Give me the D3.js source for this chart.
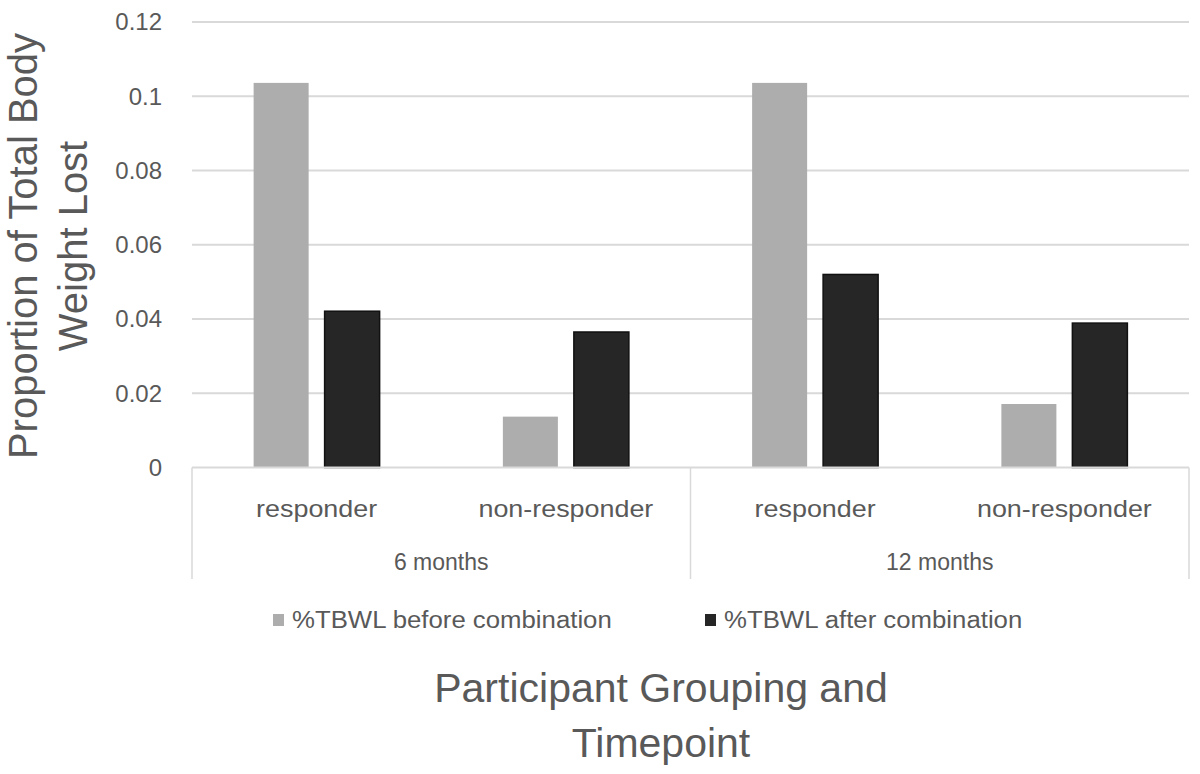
<!DOCTYPE html>
<html><head><meta charset="utf-8">
<script src="https://cdn.jsdelivr.net/npm/d3@7"></script>
<style>body{margin:0;background:#fff}svg{display:block}text{font-family:"Liberation Sans",Arial,sans-serif}</style>
</head><body>
<svg id="c" width="1200" height="774"></svg>
<script>
const groups = ["6 months", "12 months"];
const subgroups = ["responder", "non-responder"];
const seriesNames = ["%TBWL before combination", "%TBWL after combination"];
const beforeValues = [0.1036, 0.0137, 0.1036, 0.0171];
const afterValues = [0.0421, 0.0365, 0.0520, 0.0389];
const yTicks = [0, 0.02, 0.04, 0.06, 0.08, 0.1, 0.12];
const yTickLabels = ["0", "0.02", "0.04", "0.06", "0.08", "0.1", "0.12"];
const colors = ["#adadad", "#262626"];

const svg = d3.select("#c");
const L = 192, R = 1189, T = 22, B = 467.5;
const cats = [];
groups.forEach(g => subgroups.forEach(s => cats.push(g + "|" + s)));
const data = cats.map((c, i) => ({cat: c, vals: [beforeValues[i], afterValues[i]]}));

const x0 = d3.scaleBand().domain(cats).range([L, R]).padding(0);
const x1 = d3.scaleBand().domain([0, 1]).range([0, x0.bandwidth()]).paddingInner(0.225).paddingOuter(0.868);
const y = d3.scaleLinear().domain([0, 0.12]).range([B, T]);

function stretch(sel, f) {
  sel.each(function() { const w = this.getComputedTextLength(); d3.select(this).attr("textLength", w * f).attr("lengthAdjust", "spacingAndGlyphs"); });
}

// gridlines
svg.append("g").selectAll("line").data(yTicks.filter(d => d > 0)).join("line")
  .attr("x1", L).attr("x2", R).attr("y1", d => y(d)).attr("y2", d => y(d))
  .attr("stroke", "#d9d9d9").attr("stroke-width", 2);

// y tick labels
svg.append("g").selectAll("text").data(yTicks).join("text")
  .attr("x", 162).attr("y", d => y(d)).attr("dy", "0.35em").attr("text-anchor", "end")
  .attr("font-size", 24).attr("fill", "#595959")
  .text((d, i) => yTickLabels[i]);

// bars
const g = svg.append("g").selectAll("g").data(data).join("g")
  .attr("transform", d => `translate(${x0(d.cat)},0)`);
g.selectAll("rect").data(d => d.vals.map((v, k) => ({v, k}))).join("rect")
  .attr("x", d => x1(d.k)).attr("width", x1.bandwidth())
  .attr("y", d => y(d.v)).attr("height", d => B - y(d.v))
  .attr("fill", d => colors[d.k])
  .attr("stroke", d => d.k === 1 ? "#111" : "none").attr("stroke-width", 1.5);

// axis line and category dividers
svg.append("line").attr("x1", L).attr("x2", R).attr("y1", B).attr("y2", B)
  .attr("stroke", "#d9d9d9").attr("stroke-width", 2);
const dividers = [L, x0(cats[2]), R];
svg.append("g").selectAll("line").data(dividers).join("line")
  .attr("x1", d => d).attr("x2", d => d).attr("y1", B).attr("y2", 579)
  .attr("stroke", "#d9d9d9").attr("stroke-width", 1.5);

// subgroup labels
svg.append("g").selectAll("text").data(cats).join("text")
  .attr("x", d => x0(d) + x0.bandwidth() / 2).attr("y", 517)
  .attr("text-anchor", "middle").attr("font-size", 24).attr("fill", "#595959")
  .text(d => d.split("|")[1]).call(stretch, 1.12);
// group labels
svg.append("g").selectAll("text").data(groups).join("text")
  .attr("x", (d, i) => x0(cats[i * 2]) + x0.bandwidth())
  .attr("y", 570).attr("text-anchor", "middle").attr("font-size", 23).attr("fill", "#595959")
  .text(d => d);

// legend
const legX = [273, 705];
const lg = svg.append("g").selectAll("g").data(seriesNames).join("g")
  .attr("transform", (d, i) => `translate(${legX[i]},620)`);
lg.append("rect").attr("x", 0).attr("y", -6).attr("width", 11).attr("height", 12)
  .attr("fill", (d, i) => colors[i]);
lg.append("text").attr("x", 19).attr("dy", "0.35em").attr("font-size", 23).attr("fill", "#595959")
  .text(d => d).call(stretch, 1.12);

// y axis title
const yt = svg.append("text").attr("transform", "translate(0,246) rotate(-90)")
  .attr("text-anchor", "middle").attr("font-size", 40).attr("fill", "#595959");
yt.append("tspan").attr("x", 0).attr("y", 37).text("Proportion of Total Body");
yt.append("tspan").attr("x", 0).attr("y", 87).text("Weight Lost");

// x axis title
const xt = svg.append("text").attr("text-anchor", "middle").attr("font-size", 41).attr("fill", "#595959");
xt.append("tspan").attr("x", 661).attr("y", 702).text("Participant Grouping and");
xt.append("tspan").attr("x", 661).attr("y", 757).text("Timepoint");
</script>
</body></html>
